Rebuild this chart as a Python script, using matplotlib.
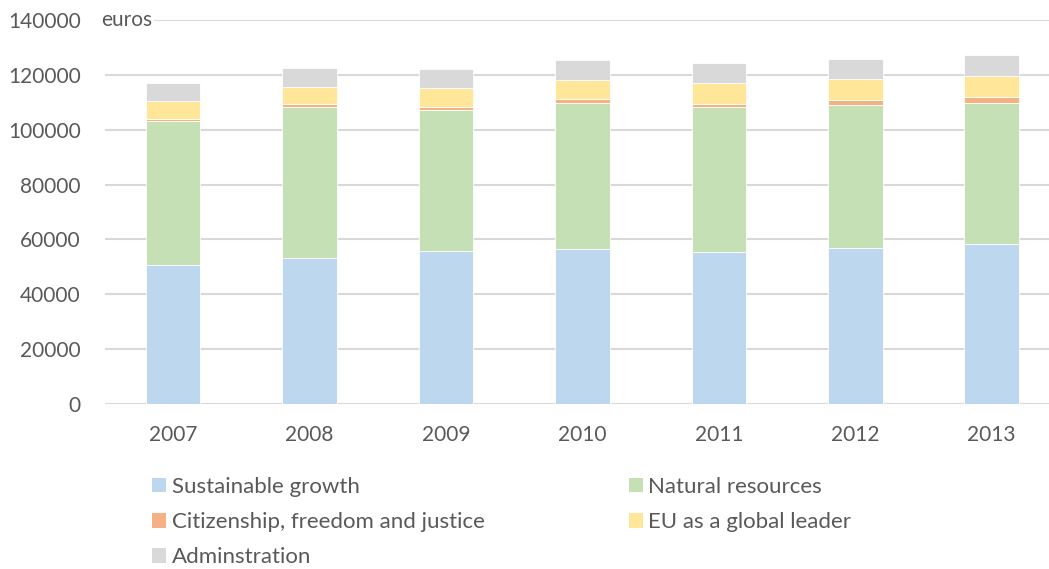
import numpy as np
import matplotlib.pyplot as plt
from matplotlib.patches import Patch

plt.rcParams['font.family'] = ['Lato', 'DejaVu Sans']

years = ['2007', '2008', '2009', '2010', '2011', '2012', '2013']
sustainable = [50800, 53300, 55900, 56400, 55500, 56800, 58300]
natural = [52200, 54800, 51200, 53400, 52600, 52300, 51500]
citizenship = [1000, 1100, 1200, 1450, 1450, 1600, 1950]
global_leader = [6450, 6550, 6800, 7050, 7550, 7750, 8000]
admin = [6600, 6800, 6950, 7050, 7300, 7400, 7650]

series = [
    ('Sustainable growth', sustainable, '#BDD7EE'),
    ('Natural resources', natural, '#C5E0B4'),
    ('Citizenship, freedom and justice', citizenship, '#F4B183'),
    ('EU as a global leader', global_leader, '#FFE699'),
    ('Adminstration', admin, '#D9D9D9'),
]

txt = '#595959'
W, H = 1049, 569
fig = plt.figure(figsize=(W / 100, H / 100), dpi=100)
ax = fig.add_axes([105 / W, (H - 404) / H, (1049 - 105) / W, (404 - 20) / H])

x = np.arange(len(years))
bottom = np.zeros(len(years))
handles = {}
for name, vals, col in series:
    ax.bar(x, vals, width=0.40, bottom=bottom, color=col,
           edgecolor='white', linewidth=0.6, zorder=3)
    bottom += np.array(vals)
    handles[name] = Patch(facecolor=col, edgecolor='none')

ax.set_xlim(-0.5, 6.42)
ax.set_ylim(0, 140000)
ax.set_yticks(range(0, 140001, 20000))
ax.set_yticklabels([str(v) for v in range(0, 140001, 20000)])
ax.set_xticks(x)
ax.set_xticklabels(years)
ax.grid(axis='y', color='#D9D9D9', linewidth=1.5, zorder=0)
for s in ax.spines.values():
    s.set_visible(False)
ax.tick_params(length=0, colors=txt, labelsize=15)
ax.tick_params(axis='y', pad=17.5)
ax.tick_params(axis='x', pad=15)

ax.text(101 / W, (H - 20) / H, 'euros', transform=fig.transFigure,
        ha='left', va='center', fontsize=15, color=txt,
        bbox=dict(facecolor='white', edgecolor='none', pad=1.5), zorder=5)

order = ['Sustainable growth', 'Citizenship, freedom and justice', 'Adminstration',
         'Natural resources', 'EU as a global leader']
leg = fig.legend([handles[k] for k in order], order, ncol=2,
                 loc='upper left', bbox_to_anchor=(152 / W, (H - 477) / H),
                 frameon=False, fontsize=16, handlelength=0.63, handleheight=0.63,
                 handletextpad=0.25, columnspacing=6.5, labelspacing=0.68,
                 borderaxespad=0, borderpad=0)
for t in leg.get_texts():
    t.set_color(txt)

fig.savefig('out.png', dpi=100)
